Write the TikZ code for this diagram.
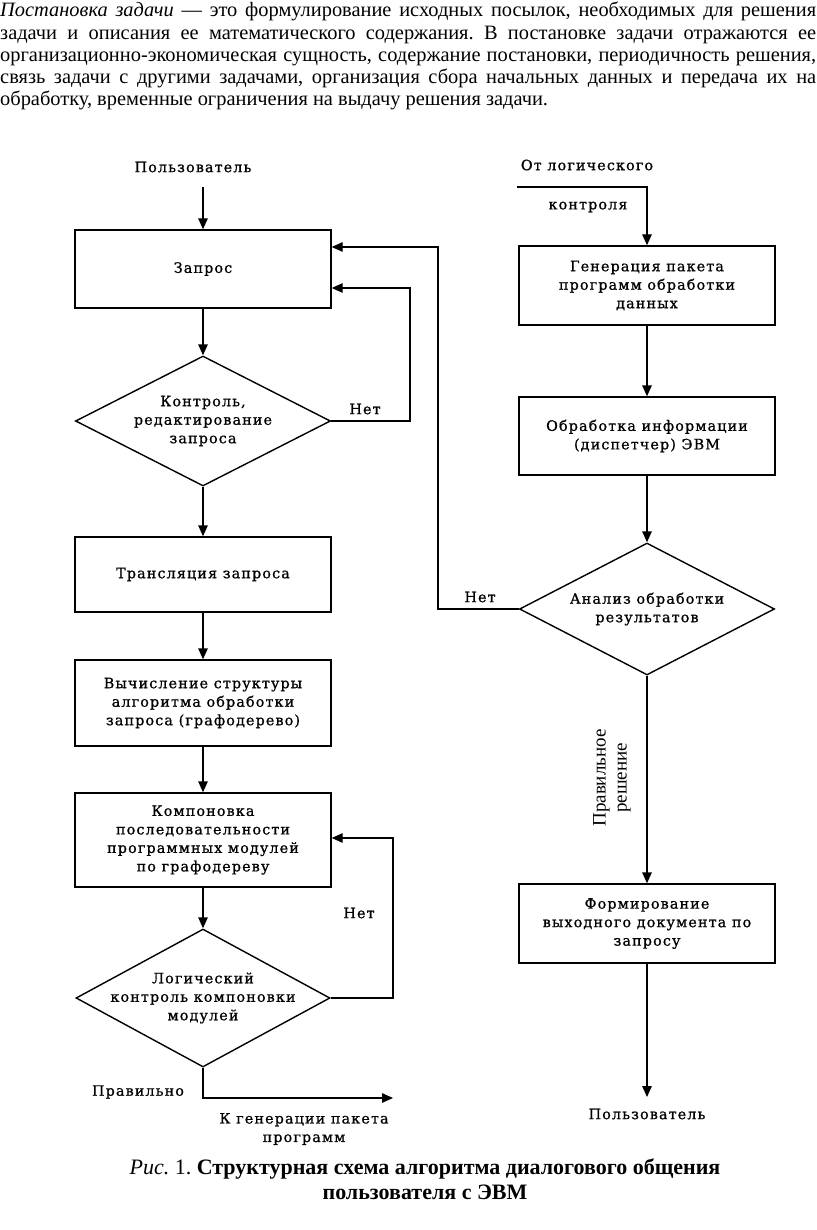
\documentclass[tikz,border=0pt]{standalone}
\usepackage{fontspec}
\setmainfont{Liberation Serif}
\newfontfamily\dfont{DejaVu Serif}[LetterSpace=8,FakeBold=0.9]
\usetikzlibrary{shapes.geometric,arrows.meta}
\frenchspacing
\begin{document}
\begin{tikzpicture}[x=1pt,y=-1pt,
  dtext/.style={font=\dfont\fontsize{14.3}{18.5}\selectfont},
  box/.style={draw,line width=1.4pt,minimum width=256pt,inner sep=0pt,align=center,dtext},
  dia/.style={draw,diamond,line width=1.4pt,inner sep=0pt},
  arr/.style={line width=1.4pt,-{Triangle[length=11pt,width=9.5pt]}},
  lbl/.style={inner sep=0pt,align=center,dtext}]
\useasboundingbox (0,0) rectangle (816,1230);
% paragraph
\node[anchor=north west,inner sep=0pt,text width=816pt,align=justify,
  font=\fontsize{20.4}{22.3}\selectfont] (par) at (0,2)
{\textit{Постановка задачи} — это формулирование исходных посылок, необходимых для решения\linebreak
задачи и описания ее математического содержания. В постановке задачи отражаются ее\linebreak
организационно-экономическая сущность, содержание постановки, периодичность решения,\linebreak
связь задачи с другими задачами, организация сбора начальных данных и передача их на\linebreak
обработку, временные ограничения на выдачу решения задачи.};
% left column
\node[lbl] (u1) at (193,167) {Пользователь};
\coordinate (u1a) at (203,187);
\node[box,minimum height=78pt] (zapros) at (203,269) {Запрос};
\node[dia,minimum width=255pt,minimum height=130pt] (ctrl) at (203,421) {};
\node[lbl] (ctrlt) at (ctrl.center) {Контроль,\\редактирование\\запроса};
\node[box,minimum height=75pt] (trans) at (203,574.5) {Трансляция запроса};
\node[box,minimum height=86pt] (vych) at (203,703) {Вычисление структуры\\алгоритма обработки\\запроса (графодерево)};
\node[box,minimum height=94pt] (komp) at (203,840) {Компоновка\\последовательности\\программных модулей\\по графодереву};
\node[dia,minimum width=254pt,minimum height=138pt] (logk) at (203,998) {};
\node[lbl] (logkt) at (logk.center) {Логический\\контроль компоновки\\модулей};
% right column
\node[lbl] (ot1) at (587,165) {От логического};
\node[lbl] (ot2) at (588,207) {контроля};
\coordinate (ota) at (517,187);
\node[box,minimum height=79pt] (gen) at (647,285.5) {Генерация пакета\\программ обработки\\данных};
\node[box,minimum height=78pt] (obr) at (647,436) {Обработка информации\\(диспетчер) ЭВМ};
\node[dia,minimum width=255pt,minimum height=132pt] (anal) at (647,609) {};
\node[lbl] (analt) at (anal.center) {Анализ обработки\\результатов};
\node[box,minimum height=79pt] (form) at (647,923.5) {Формирование\\выходного документа по\\запросу};
\coordinate (u2a) at (647,1097);
\node[lbl] (u2) at (647,1114) {Пользователь};
% loop coordinates
\coordinate (c1) at (410,288);
\coordinate (c2) at (438,247);
\coordinate (c3) at (393,838);
\coordinate (c4) at (393,1098);
% connectors
\draw[arr] (u1a) -- (zapros.north);
\draw[arr] (zapros.south) -- (ctrl.north);
\draw[arr] (ctrl.south) -- (trans.north);
\draw[arr] (trans.south) -- (vych.north);
\draw[arr] (vych.south) -- (komp.north);
\draw[arr] (komp.south) -- (logk.north);
\draw[arr] (ctrl.east) -| (c1) -- (zapros.east |- c1);
\draw[arr] (anal.west) -| (c2) -- (zapros.east |- c2);
\draw[arr] (logk.east) -| (c3) -- (komp.east |- c3);
\draw[arr] (logk.south) |- (c4);
\draw[arr] (ota) -| (gen.north);
\draw[arr] (gen.south) -- (obr.north);
\draw[arr] (obr.south) -- (anal.north);
\draw[arr] (anal.south) -- (form.north);
\draw[arr] (form.south) -- (u2a);
% labels
\node[lbl] (n1) at (365,409) {Нет};
\node[lbl] (n2) at (480,597) {Нет};
\node[lbl] (n3) at (359,913) {Нет};
\node[lbl] (pr) at (138,1092) {Правильно};
\node[lbl] (kg) at (304,1129) {К генерации пакета\\программ};
\node[inner sep=0pt,align=center,rotate=90,font=\fontsize{19}{21}\selectfont] (prr) at (612,778) {Правильное\\решение};
% caption
\node[inner sep=0pt,align=center,font=\fontsize{22}{25}\selectfont] (cap) at (425,1179)
{\textit{Рис.} 1. \textbf{Структурная схема алгоритма диалогового общения}\\\textbf{пользователя с ЭВМ}};
\end{tikzpicture}
\end{document}
